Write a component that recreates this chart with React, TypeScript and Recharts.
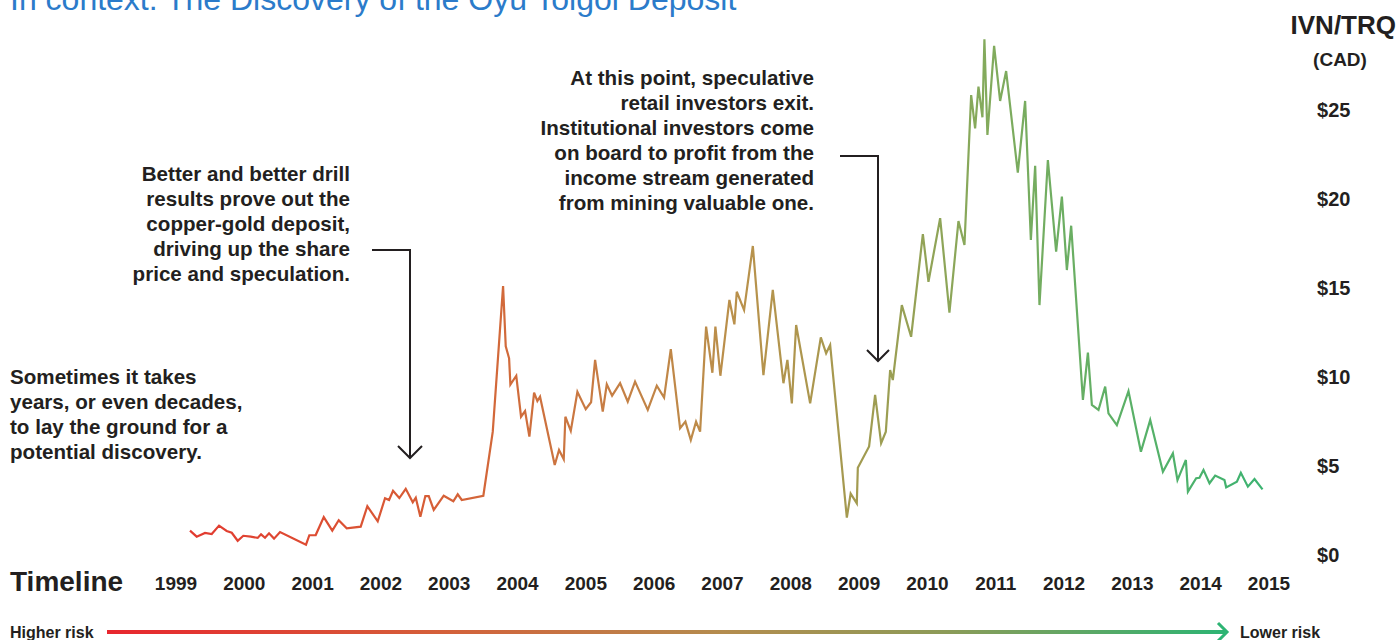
import { LineChart, Line, XAxis, YAxis } from 'recharts'

// decimal years, with the share price (CAD) at each
const dates = [
  1999.205, 1999.303, 1999.425, 1999.523, 1999.63, 1999.742, 1999.816, 1999.903, 1999.985, 2000.094,
  2000.196, 2000.245, 2000.303, 2000.362, 2000.435, 2000.523, 2000.903, 2000.952, 2001.045, 2001.163,
  2001.288, 2001.382, 2001.499, 2001.704, 2001.801, 2001.953, 2002.06, 2002.119, 2002.177, 2002.269,
  2002.363, 2002.466, 2002.51, 2002.577, 2002.65, 2002.7, 2002.773, 2002.919, 2003.06, 2003.124,
  2003.183, 2003.499, 2003.637, 2003.788, 2003.827, 2003.876, 2003.895, 2003.981, 2004.051, 2004.11,
  2004.173, 2004.242, 2004.29, 2004.329, 2004.544, 2004.607, 2004.676, 2004.7, 2004.779, 2004.876,
  2004.998, 2005.076, 2005.135, 2005.247, 2005.306, 2005.384, 2005.501, 2005.613, 2005.72, 2005.906,
  2006.038, 2006.145, 2006.243, 2006.379, 2006.457, 2006.536, 2006.613, 2006.672, 2006.76, 2006.852,
  2006.896, 2006.969, 2007.101, 2007.174, 2007.209, 2007.316, 2007.444, 2007.599, 2007.736, 2007.892,
  2007.95, 2008.015, 2008.078, 2008.283, 2008.439, 2008.517, 2008.576, 2008.82, 2008.876, 2008.966,
  2008.981, 2009.146, 2009.234, 2009.322, 2009.391, 2009.454, 2009.493, 2009.625, 2009.761, 2009.933,
  2010.015, 2010.186, 2010.322, 2010.454, 2010.542, 2010.64, 2010.698, 2010.747, 2010.805, 2010.834,
  2010.878, 2010.976, 2011.064, 2011.152, 2011.323, 2011.43, 2011.514, 2011.577, 2011.64, 2011.763,
  2011.884, 2011.968, 2012.041, 2012.104, 2012.276, 2012.349, 2012.407, 2012.504, 2012.602, 2012.65,
  2012.773, 2012.943, 2013.125, 2013.261, 2013.447, 2013.593, 2013.66, 2013.783, 2013.813, 2013.934,
  2013.982, 2014.041, 2014.129, 2014.212, 2014.348, 2014.373, 2014.53, 2014.588, 2014.691, 2014.788,
  2014.905,
]
const prices = [
  1.37, 1.03, 1.24, 1.18, 1.65, 1.35, 1.25, 0.8, 1.08, 1.03,
  0.96, 1.16, 0.97, 1.22, 0.92, 1.29, 0.58, 1.11, 1.12, 2.13,
  1.37, 1.95, 1.5, 1.59, 2.74, 1.89, 3.19, 3.09, 3.61, 3.2,
  3.72, 2.96, 3.22, 2.15, 3.31, 3.31, 2.53, 3.33, 3.02, 3.41,
  3.09, 3.33, 6.93, 15.11, 11.72, 11.05, 9.57, 10.07, 7.77, 8.09,
  6.65, 9.12, 8.65, 8.89, 5.06, 5.9, 5.38, 7.77, 6.97, 9.17,
  8.19, 8.58, 10.96, 8.05, 9.59, 8.95, 9.65, 8.61, 9.74, 8.15,
  9.51, 8.84, 11.57, 7.12, 7.49, 6.46, 7.49, 6.93, 12.83, 10.24,
  12.83, 10.07, 14.33, 12.96, 14.79, 13.76, 17.36, 10.11, 14.89, 9.65,
  10.96, 8.52, 12.92, 8.52, 12.23, 11.33, 11.8, 2.1, 3.45, 2.9,
  4.9, 6.1, 9.0, 6.28, 6.93, 10.39, 9.83, 14.04, 12.26, 18.03,
  15.35, 18.92, 13.61, 18.76, 17.42, 25.84, 23.97, 26.31, 24.59, 28.97,
  23.6, 28.6, 25.51, 27.19, 21.48, 25.51, 17.7, 21.87, 14.04, 22.19,
  17.04, 20.13, 16.01, 18.5, 8.71, 11.37, 8.43, 8.15, 9.46, 7.96,
  7.3, 9.21, 5.8, 7.58, 4.68, 5.71, 4.21, 5.34, 3.56, 4.31,
  4.34, 4.78, 4.03, 4.46, 4.21, 3.8, 4.12, 4.62, 3.84, 4.27,
  3.69,
]
const years = [1999, 2000, 2001, 2002, 2003, 2004, 2005, 2006, 2007, 2008, 2009, 2010, 2011, 2012, 2013, 2014, 2015]
const priceTicks = [0, 5, 10, 15, 20, 25]

const noteLeft = ['Sometimes it takes', 'years, or even decades,', 'to lay the ground for a', 'potential discovery.']
const noteMid = ['Better and better drill', 'results prove out the', 'copper-gold deposit,', 'driving up the share', 'price and speculation.']
const noteRight = ['At this point, speculative', 'retail investors exit.', 'Institutional investors come', 'on board to profit from the', 'income stream generated', 'from mining valuable one.']

const data = dates.map((t, i) => ({ t, price: prices[i] }))

const FONT = '"Liberation Sans", Arial, Helvetica, sans-serif'
const INK = '#231f20'

const YearTick = ({ x, y, payload }: any) => (
  <text x={x} y={y + 27} textAnchor="middle" fontSize={19} fontWeight={700} fill={INK} fontFamily={FONT}>
    {payload.value}
  </text>
)

const PriceTick = ({ x, y, payload }: any) => (
  <text x={x + 40} y={y} dy="0.36em" textAnchor="start" fontSize={20} fontWeight={700} fill={INK} fontFamily={FONT}>
    ${payload.value}
  </text>
)

const Note = ({ lines, x, y, anchor }: { lines: string[]; x: number; y: number; anchor: 'start' | 'end' }) => (
  <text x={x} y={y} textAnchor={anchor} fontSize={20.6} fontWeight={700} fill={INK} fontFamily={FONT}>
    {lines.map((l, i) => (
      <tspan key={i} x={x} dy={i === 0 ? 0 : 25}>{l}</tspan>
    ))}
  </text>
)

export default function App() {
  return (
    <div style={{ position: 'absolute', left: 0, top: 0, width: 1398, height: 640, background: '#fff', overflow: 'hidden', fontFamily: FONT }}>
      <LineChart width={1398} height={640} data={data} margin={{ top: 21, right: 0, left: 176, bottom: 35 }}>
        <defs>
          <linearGradient id="lineGrad" x1="0" y1="0" x2="1" y2="0">
            <stop offset="0" stopColor="#e23a30" />
            <stop offset="0.1" stopColor="#de4a32" />
            <stop offset="0.2" stopColor="#d85a35" />
            <stop offset="0.29" stopColor="#d2693a" />
            <stop offset="0.4" stopColor="#c58045" />
            <stop offset="0.52" stopColor="#b8924c" />
            <stop offset="0.62" stopColor="#a39a50" />
            <stop offset="0.74" stopColor="#84aa5c" />
            <stop offset="0.86" stopColor="#5eb066" />
            <stop offset="1" stopColor="#3cb371" />
          </linearGradient>
        </defs>
        <XAxis type="number" dataKey="t" domain={[1999, 2015]} ticks={years} interval={0} axisLine={false} tickLine={false} tick={<YearTick />} height={50} />
        <YAxis orientation="right" domain={[0, 30]} ticks={priceTicks} axisLine={false} tickLine={false} tick={<PriceTick />} width={129} />
        <Line type="linear" dataKey="price" stroke="url(#lineGrad)" strokeWidth={2.2} dot={false} activeDot={false} isAnimationActive={false} />
      </LineChart>

      <svg width={1398} height={640} style={{ position: 'absolute', left: 0, top: 0, pointerEvents: 'none' }}>
        <defs>
          <linearGradient id="riskGrad" x1="0" y1="0" x2="1" y2="0">
            <stop offset="0" stopColor="#e8262e" />
            <stop offset="0.3" stopColor="#d4603a" />
            <stop offset="0.55" stopColor="#b48c4e" />
            <stop offset="0.75" stopColor="#8c9b58" />
            <stop offset="1" stopColor="#2db473" />
          </linearGradient>
        </defs>
        <text x={10} y={10} fontSize={32} fill="#2b7bca" fontFamily={FONT}>In context: The Discovery of the Oyu Tolgoi Deposit</text>
        <text x={1396} y={34} textAnchor="end" fontSize={26} fontWeight={700} fill={INK} fontFamily={FONT}>IVN/TRQ</text>
        <text x={1340} y={66} textAnchor="middle" fontSize={19} fontWeight={700} fill={INK} fontFamily={FONT}>(CAD)</text>

        <Note lines={noteLeft} x={10} y={384} anchor="start" />
        <Note lines={noteMid} x={350} y={181} anchor="end" />
        <Note lines={noteRight} x={814} y={85} anchor="end" />

        <g stroke={INK} strokeWidth={2} fill="none">
          <path d="M372,250 H410 V458" />
          <path d="M398,446 L410,458 L422,446" />
          <path d="M840,156 H878 V361" />
          <path d="M867,350 L878,361 L889,350" />
        </g>

        <text x={10} y={591} fontSize={28} fontWeight={700} fill={INK} fontFamily={FONT}>Timeline</text>

        <text x={10} y={638} fontSize={16} fontWeight={700} fill={INK} fontFamily={FONT}>Higher risk</text>
        <rect x={107} y={630} width={1118} height={4} fill="url(#riskGrad)" />
        <path d="M1218,623 L1227,632 L1218,641" stroke="#2db473" strokeWidth={3} fill="none" />
        <text x={1240} y={638} fontSize={16} fontWeight={700} fill={INK} fontFamily={FONT}>Lower risk</text>
      </svg>
    </div>
  )
}
